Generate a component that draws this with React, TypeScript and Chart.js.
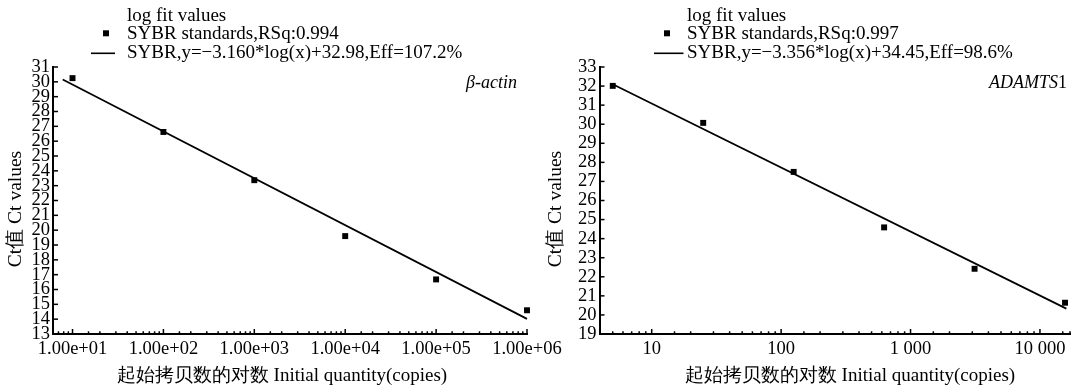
import React, { useEffect, useRef } from 'react';
import { Chart, registerables } from 'chart.js';

Chart.register(...registerables);

const FONT = '"Liberation Serif", "Times New Roman", serif';

// ---- β-actin panel data ----
const actinCopies = [10, 100, 1000, 10000, 100000, 1000000];
const actinCt = [30.25, 26.62, 23.37, 19.6, 16.68, 14.6];
const actinFitX = [7.8, 1000000];
const actinFitY = [30.16, 14.02];
const actinYRange = [13, 31];
const actinXRange = [6.1, 1000000];
const actinLegend = ['SYBR standards,RSq:0.994', 'SYBR,y=\u22123.160*log(x)+32.98,Eff=107.2%'];

// ---- ADAMTS1 panel data ----
const adamCopies = [5, 25, 125, 625, 3125, 15625];
const adamCt = [32.01, 30.07, 27.5, 24.59, 22.42, 20.64];
const adamFitX = [5, 16000];
const adamFitY = [32.1, 20.33];
const adamYRange = [19, 33];
const adamXRange = [3.95, 17070];
const adamLegend = ['SYBR standards,RSq:0.997', 'SYBR,y=\u22123.356*log(x)+34.45,Eff=98.6%'];

const legendTitle = 'log fit values';
const yTitle = 'Ct值 Ct values';
const xTitle = '起始拷贝数的对数 Initial quantity(copies)';

const isPow10 = (v: number) => Math.abs(Math.log10(v) - Math.round(Math.log10(v))) < 1e-9;

const sciLabel = (v: number) => {
  const e = Math.round(Math.log10(v));
  return '1.00e+' + (e < 10 ? '0' + e : String(e));
};
const spacedLabel = (v: number) =>
  String(Math.round(v)).replace(/\B(?=(\d{3})+(?!\d))/g, ' ');

type PanelCfg = {
  left: number;
  width: number;
  copies: number[];
  ct: number[];
  fitX: number[];
  fitY: number[];
  yRange: number[];
  xRange: number[];
  legend: string[];
  fmt: (v: number) => string;
  pad: { top: number; right: number };
  yWidth: number;
  legendPos: { text: number; square: number; line: [number, number] };
  gene: { x: number; italic: string; plain: string };
  titles: { xCenter: number; yCenterX: number };
};

const panels: PanelCfg[] = [
  {
    left: 0,
    width: 580,
    copies: actinCopies,
    ct: actinCt,
    fitX: actinFitX,
    fitY: actinFitY,
    yRange: actinYRange,
    xRange: actinXRange,
    legend: actinLegend,
    fmt: sciLabel,
    pad: { top: 67, right: 53 },
    yWidth: 53,
    legendPos: { text: 127, square: 106, line: [91, 115] },
    gene: { x: 466, italic: 'β-actin', plain: '' },
    titles: { xCenter: 282, yCenterX: 16 },
  },
  {
    left: 538,
    width: 539,
    copies: adamCopies,
    ct: adamCt,
    fitX: adamFitX,
    fitY: adamFitY,
    yRange: adamYRange,
    xRange: adamXRange,
    legend: adamLegend,
    fmt: spacedLabel,
    pad: { top: 67, right: 7 },
    yWidth: 61.5,
    legendPos: { text: 149, square: 129, line: [116, 145.5] },
    gene: { x: 451, italic: 'ADAMTS', plain: '1' },
    titles: { xCenter: 312, yCenterX: 18 },
  },
];

function Panel({ cfg }: { cfg: PanelCfg }) {
  const ref = useRef<HTMLCanvasElement | null>(null);
  useEffect(() => {
    if (!ref.current) return;
    const decor = {
      id: 'decor',
      afterDraw(chart: any) {
        const { ctx } = chart;
        const xs = chart.scales.x;
        const ys = chart.scales.y;
        ctx.save();
        ctx.strokeStyle = '#000';
        ctx.lineWidth = 1.5;
        xs.ticks.forEach((t: any) => {
          const px = xs.getPixelForValue(t.value);
          if (px < xs.left + 3) return;
          const len = isPow10(t.value) ? 5 : 2.7;
          ctx.beginPath();
          ctx.moveTo(px, xs.top);
          ctx.lineTo(px, xs.top - len);
          ctx.stroke();
        });
        ys.ticks.forEach((t: any) => {
          const py = ys.getPixelForValue(t.value);
          ctx.beginPath();
          ctx.moveTo(ys.right, py);
          ctx.lineTo(ys.right + 5, py);
          ctx.stroke();
        });
        // legend
        ctx.fillStyle = '#000';
        ctx.font = `19px ${FONT}`;
        ctx.textAlign = 'left';
        ctx.textBaseline = 'alphabetic';
        const lp = cfg.legendPos;
        ctx.fillText(legendTitle, lp.text, 20.7);
        ctx.fillText(cfg.legend[0], lp.text, 39);
        ctx.fillText(cfg.legend[1], lp.text, 58.3);
        ctx.fillRect(lp.square - 3, 33.3 - 3, 6, 6);
        ctx.lineWidth = 1.6;
        ctx.beginPath();
        ctx.moveTo(lp.line[0], 53.3);
        ctx.lineTo(lp.line[1], 53.3);
        ctx.stroke();
        // gene label
        ctx.textBaseline = 'middle';
        ctx.font = `italic 18px ${FONT}`;
        ctx.fillText(cfg.gene.italic, cfg.gene.x, 83);
        const w = ctx.measureText(cfg.gene.italic).width;
        if (cfg.gene.plain) {
          ctx.font = `18px ${FONT}`;
          ctx.fillText(cfg.gene.plain, cfg.gene.x + w, 83);
        }
        // axis titles
        ctx.font = `19px ${FONT}`;
        ctx.textAlign = 'center';
        ctx.textBaseline = 'middle';
        ctx.fillText(xTitle, cfg.titles.xCenter, 376.5);
        ctx.translate(cfg.titles.yCenterX, 209);
        ctx.rotate(-Math.PI / 2);
        ctx.font = `19.5px ${FONT}`;
        ctx.fillText(yTitle, 0, 0);
        ctx.restore();
      },
    };
    const chart = new Chart(ref.current, {
      type: 'scatter',
      data: {
        datasets: [
          {
            data: cfg.copies.map((x, i) => ({ x, y: cfg.ct[i] })),
            pointStyle: 'rect',
            pointRadius: 4.2,
            backgroundColor: '#000',
            borderColor: '#000',
            borderWidth: 0,
            showLine: false,
            clip: false,
          } as any,
          {
            data: cfg.fitX.map((x, i) => ({ x, y: cfg.fitY[i] })),
            showLine: true,
            pointRadius: 0,
            borderColor: '#000',
            borderWidth: 1.7,
            clip: false,
          } as any,
        ],
      },
      options: {
        animation: false,
        responsive: false,
        layout: { padding: { top: cfg.pad.top, right: cfg.pad.right, left: 0, bottom: 0 } },
        plugins: { legend: { display: false }, tooltip: { enabled: false } },
        scales: {
          x: {
            type: 'logarithmic',
            min: cfg.xRange[0],
            max: cfg.xRange[1],
            grid: { display: false, drawTicks: false },
            border: { display: true, color: '#000', width: 2 },
            ticks: {
              autoSkip: false,
              maxRotation: 0,
              padding: 4,
              color: '#000',
              font: { family: FONT, size: 18.5 },
              callback: (v: any) => (isPow10(Number(v)) && Number(v) >= cfg.xRange[0] ? cfg.fmt(Number(v)) : ''),
            },
            title: { display: false, text: xTitle },
            afterFit: (s: any) => {
              s.height = 57;
            },
          },
          y: {
            type: 'linear',
            min: cfg.yRange[0],
            max: cfg.yRange[1],
            grid: { display: false, drawTicks: false },
            border: { display: true, color: '#000', width: 2 },
            ticks: {
              stepSize: 1,
              autoSkip: false,
              padding: 3,
              color: '#000',
              font: { family: FONT, size: 18.5 },
            },
            title: { display: false, text: yTitle },
            afterFit: (s: any) => {
              s.width = cfg.yWidth;
            },
          },
        },
      } as any,
      plugins: [decor],
    });
    return () => chart.destroy();
  }, [cfg]);
  return (
    <canvas
      ref={ref}
      width={cfg.width}
      height={391}
      style={{ position: 'absolute', left: cfg.left, top: 0, width: cfg.width, height: 391 }}
    />
  );
}

export default function App() {
  return (
    <div style={{ position: 'fixed', left: 0, top: 0, width: 1077, height: 391, background: '#fff', overflow: 'hidden' }}>
      {panels.map((p, i) => (
        <Panel key={i} cfg={p} />
      ))}
    </div>
  );
}
